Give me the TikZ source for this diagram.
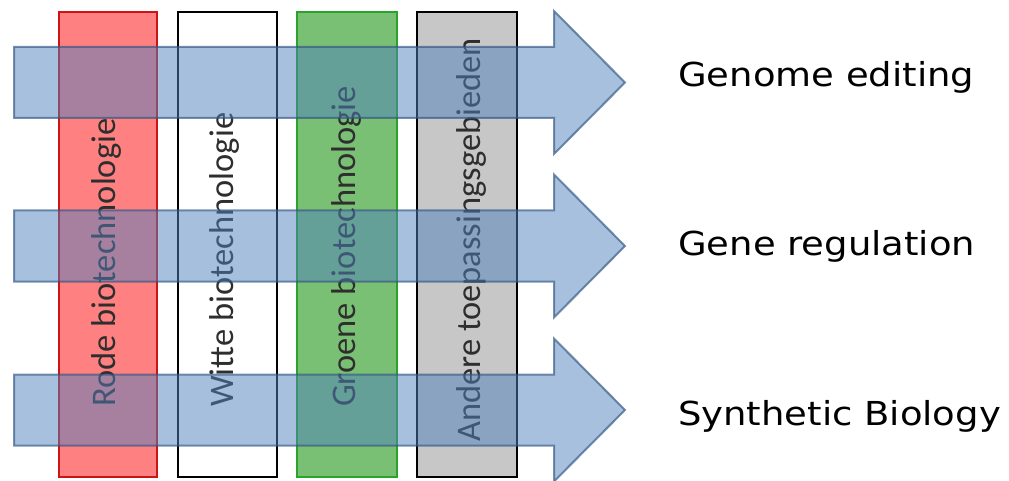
\documentclass[tikz,border=0pt]{standalone}
\usepackage{fontspec}
\setmainfont{DejaVu Sans}[FakeStretch=1.12]
\newfontfamily\kolomfont{Carlito}
\usepackage{xcolor}
\usepackage{tikz}
\usetikzlibrary{positioning}
\definecolor{rood}{RGB}{255,128,128}
\definecolor{roodrand}{RGB}{205,20,20}
\definecolor{groen}{RGB}{122,192,116}
\definecolor{groenrand}{RGB}{40,165,40}
\definecolor{grijs}{RGB}{199,199,199}
\definecolor{pijlblauw}{RGB}{79,129,189}
\definecolor{pijlrand}{RGB}{50,85,130}

\begin{document}
\begin{tikzpicture}[x=1pt, y=-1pt, every node/.style={inner sep=0pt},
    kolom/.style={line width=2pt},
    kolomtekst/.style={font=\kolomfont\fontsize{34.5}{40}\selectfont,
                       text=black!82, rotate=90, anchor=base west},
    pijlvorm/.style={line width=2pt, fill=pijlblauw, fill opacity=0.5,
                     draw=pijlrand, draw opacity=0.65, line join=miter},
    uitkomst/.style={font=\fontsize{33}{40}\selectfont, anchor=base west}]
    \useasboundingbox (0,0) rectangle (1009,481);
    % vier kolommen
    \draw[kolom, draw=roodrand, fill=rood] (59,12) rectangle (157,477);
    \draw[kolom, draw=black, fill=white] (178,12) rectangle (277,477);
    \draw[kolom, draw=groenrand, fill=groen] (297,12) rectangle (397,477);
    \draw[kolom, draw=black, fill=grijs] (417,12) rectangle (517,477);
    \node[kolomtekst] (rode) at (115,407) {Rode biotechnologie};
    \node[kolomtekst] (witte) at (233,407) {Witte biotechnologie};
    \node[kolomtekst] (groene) at (355,407) {Groene biotechnologie};
    \node[kolomtekst] (andere) at (480,442) {Andere toepassingsgebieden};
    % drie pijlen
    \draw[pijlvorm, shift={(0,82.5)}] (14,-35.5) -- (554,-35.5) -- (554,-71.5)
        -- (625,0) -- (554,71.5) -- (554,35.5) -- (14,35.5) -- cycle;
    \draw[pijlvorm, shift={(0,246)}] (14,-35.5) -- (554,-35.5) -- (554,-71.5)
        -- (625,0) -- (554,71.5) -- (554,35.5) -- (14,35.5) -- cycle;
    \draw[pijlvorm, shift={(0,410)}] (14,-35.5) -- (554,-35.5) -- (554,-71.5)
        -- (625,0) -- (554,71.5) -- (554,35.5) -- (14,35.5) -- cycle;
    \node[uitkomst] (genome) at (678,87) {Genome editing};
    \node[uitkomst] (regulation) at (678,255) {Gene regulation};
    \node[uitkomst] (synthetic) at (678,425) {Synthetic Biology};
\end{tikzpicture}
\end{document}
